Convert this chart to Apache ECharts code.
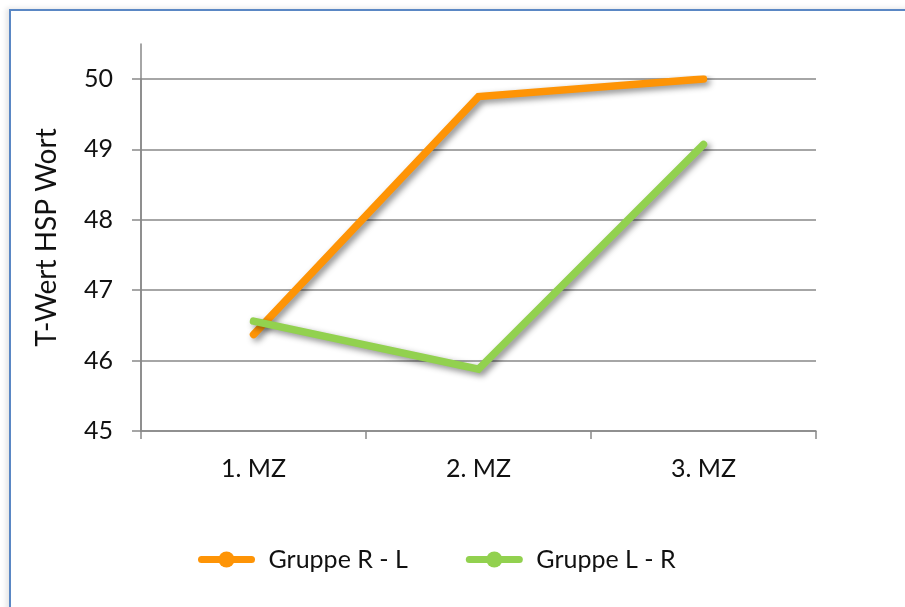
<!DOCTYPE html>
<html>
<head>
<meta charset="utf-8">
<script src="https://cdn.jsdelivr.net/npm/echarts@6/dist/echarts.min.js"></script>
<style>
  html, body { margin: 0; padding: 0; background: #ffffff; }
  #frame {
    position: absolute; left: 9px; top: 9px; width: 905px; height: 607px;
    border-left: 2px solid #5a87c4; border-top: 2px solid #5a87c4;
    box-shadow: -3px -1px 5px rgba(0,0,0,0.10);
  }
  #chart { position: absolute; left: 0; top: 0; width: 905px; height: 607px; }
</style>
</head>
<body>
<div id="frame"></div>
<div id="chart"></div>
<script>
// Measurement times (x axis)
const categories = ['1. MZ', '2. MZ', '3. MZ'];
// Mean T-values per group
const gruppeRL = [46.37, 49.75, 50.0];
const gruppeLR = [46.56, 45.88, 49.07];
const seriesNames = ['Gruppe R - L', 'Gruppe L - R'];
const yTitle = 'T-Wert HSP Wort';
const yMin = 45, yMax = 50, yStep = 1;

const FONT = 'Lato';
const AXIS = '#898989';
const TEXT = '#111111';
const ORANGE = '#fe9406';
const GREEN = '#92d14f';

const chart = echarts.init(document.getElementById('chart'), null, { renderer: 'canvas' });

function lineSeries(name, data, color) {
  return {
    name: name,
    type: 'line',
    data: data,
    xAxisIndex: 0,
    yAxisIndex: 0,
    symbol: 'circle',
    symbolSize: 16,
    showSymbol: false,
    itemStyle: { color: color },
    lineStyle: {
      color: color, width: 7.5, cap: 'round', join: 'miter',
      shadowColor: 'rgba(0,0,0,0.45)', shadowBlur: 6,
      shadowOffsetX: 3, shadowOffsetY: 3
    },
    emphasis: { disabled: true },
    animation: false
  };
}

chart.setOption({
  backgroundColor: 'transparent',
  animation: false,
  textStyle: { fontFamily: FONT },
  grid: [
    { left: 141, right: 89, top: 79, bottom: 176 },
    // taller grid carrying the axis line that rises above the top gridline
    { left: 141, right: 89, top: 44, bottom: 176 }
  ],
  legend: {
    left: 198, top: 547, padding: 0,
    itemWidth: 50, itemHeight: 20, itemGap: 58,
    lineStyle: { width: 7, cap: 'round', shadowBlur: 0, shadowOffsetX: 0, shadowOffsetY: 0 },
    textStyle: { fontFamily: FONT, fontSize: 25, color: TEXT, padding: [0, 0, 0, 12] },
    data: seriesNames
  },
  xAxis: [
    {
      type: 'category', gridIndex: 0, data: categories, boundaryGap: true,
      axisLine: { show: true, lineStyle: { color: AXIS, width: 1.5 } },
      axisTick: { show: true, length: 8, alignWithLabel: false, lineStyle: { color: AXIS, width: 1.5 } },
      axisLabel: { fontFamily: FONT, fontSize: 25, color: TEXT, margin: 25 },
      splitLine: { show: false }
    },
    {
      type: 'category', gridIndex: 1, data: categories, show: false
    }
  ],
  yAxis: [
    {
      type: 'value', gridIndex: 0, min: yMin, max: yMax, interval: yStep,
      axisLine: { show: true, lineStyle: { color: AXIS, width: 1.5 } },
      axisTick: { show: true, inside: false, length: 9, lineStyle: { color: AXIS, width: 1.5 } },
      axisLabel: { fontFamily: FONT, fontSize: 25, color: TEXT, margin: 28 },
      splitLine: { show: true, lineStyle: { color: AXIS, width: 1.5 } }
    },
    {
      type: 'value', gridIndex: 1, min: 0, max: 1,
      name: yTitle, nameLocation: 'middle', nameGap: 80, nameRotate: 90,
      nameTextStyle: { fontFamily: FONT, fontSize: 28, color: TEXT },
      axisLine: { show: true, lineStyle: { color: AXIS, width: 1.5 } },
      axisTick: { show: false },
      axisLabel: { show: false },
      splitLine: { show: false }
    }
  ],
  series: [
    lineSeries(seriesNames[0], gruppeRL, ORANGE),
    lineSeries(seriesNames[1], gruppeLR, GREEN)
  ]
});
</script>
</body>
</html>
